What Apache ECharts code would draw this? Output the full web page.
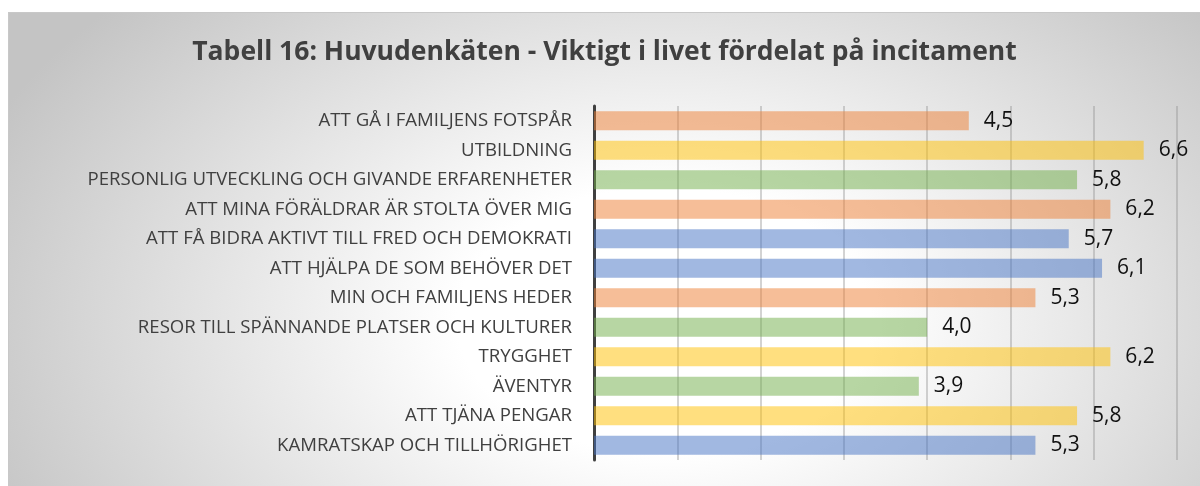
<!DOCTYPE html>
<html>
<head>
<meta charset="utf-8">
<script src="https://cdn.jsdelivr.net/npm/echarts@6/dist/echarts.min.js"></script>
<style>
  html, body { margin: 0; padding: 0; background: #fff; }
  #wrap {
    position: absolute; left: 8px; top: 12px; width: 1192px; height: 474px;
    border-top: 1px solid #c8c8c8; border-left: 1px solid #c8c8c8; box-sizing: border-box;
    background: radial-gradient(ellipse 62% 100% at 55% 65%, #ffffff 28%, #c4c4c4 100%);
  }
  #chart { width: 100%; height: 100%; }
</style>
</head>
<body>
<div id="wrap"><div id="chart"></div></div>
<script>
// kategorier uppifrån och ned
const categories = [
  'ATT GÅ I FAMILJENS FOTSPÅR',
  'UTBILDNING',
  'PERSONLIG UTVECKLING OCH GIVANDE ERFARENHETER',
  'ATT MINA FÖRÄLDRAR ÄR STOLTA ÖVER MIG',
  'ATT FÅ BIDRA AKTIVT TILL FRED OCH DEMOKRATI',
  'ATT HJÄLPA DE SOM BEHÖVER DET',
  'MIN OCH FAMILJENS HEDER',
  'RESOR TILL SPÄNNANDE PLATSER OCH KULTURER',
  'TRYGGHET',
  'ÄVENTYR',
  'ATT TJÄNA PENGAR',
  'KAMRATSKAP OCH TILLHÖRIGHET'
]
const values = [4.5, 6.6, 5.8, 6.2, 5.7, 6.1, 5.3, 4.0, 6.2, 3.9, 5.8, 5.3]
// incitamentgrupp per rad: o = orange, y = gul, g = grön, b = blå
const groups = ['o', 'y', 'g', 'o', 'b', 'b', 'o', 'g', 'y', 'g', 'y', 'b']

const groupColors = {
  o: 'rgba(237,125,49,0.5)',
  y: 'rgba(255,192,0,0.5)',
  g: 'rgba(112,173,71,0.5)',
  b: 'rgba(68,114,196,0.5)'
}

const chart = echarts.init(document.getElementById('chart'))
chart.setOption({
  animation: false,
  title: {
    text: 'Tabell 16: Huvudenkäten - Viktigt i livet fördelat på incitament',
    left: 'center', top: 21,
    textStyle: { fontFamily: 'Open Sans', fontSize: 26.5, fontWeight: 'bold', color: '#404040' }
  },
  grid: { left: 585, right: 23, top: 93, bottom: 26 },
  xAxis: {
    type: 'value', min: 0, max: 7, interval: 1,
    axisLabel: { show: false },
    axisLine: { show: false },
    axisTick: { show: false },
    splitLine: { lineStyle: { color: 'rgba(150,150,150,0.55)', width: 1.5 } }
  },
  yAxis: {
    type: 'category', inverse: true,
    data: categories,
    axisLine: { lineStyle: { color: '#404040', width: 3 } },
    axisTick: { show: false },
    axisLabel: { fontFamily: 'Open Sans', fontSize: 18.6, color: '#404040', margin: 22 }
  },
  series: [{
    type: 'bar',
    barCategoryGap: '35%',
    data: values.map((v, i) => ({ value: v, itemStyle: { color: groupColors[groups[i]] } })),
    label: {
      show: true, position: 'right', distance: 15,
      fontFamily: 'Open Sans', fontSize: 21, color: '#111',
      formatter: p => p.value.toFixed(1).replace('.', ',')
    }
  }]
})
</script>
</body>
</html>
